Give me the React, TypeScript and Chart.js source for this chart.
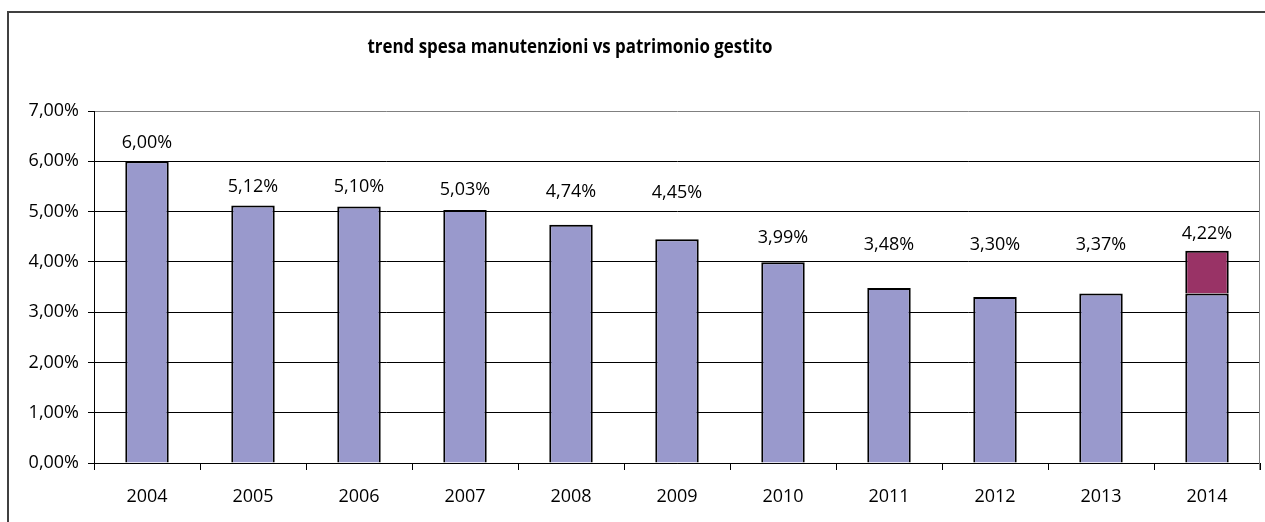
import React, { useEffect, useRef } from "react";
import { Chart, registerables } from "chart.js";

Chart.register(...registerables);

const years = ["2004", "2005", "2006", "2007", "2008", "2009", "2010", "2011", "2012", "2013", "2014"];
const baseValues = [6.0, 5.12, 5.1, 5.03, 4.74, 4.45, 3.99, 3.48, 3.3, 3.37, 3.37];
const extraValues = [0, 0, 0, 0, 0, 0, 0, 0, 0, 0, 0.85];
const totalValues = [6.0, 5.12, 5.1, 5.03, 4.74, 4.45, 3.99, 3.48, 3.3, 3.37, 4.22];
const labelLevels = [6.36, 5.5, 5.5, 5.44, 5.4, 5.37, 4.48, 4.34, 4.34, 4.34, 4.56];
const yTicks = [0, 1, 2, 3, 4, 5, 6, 7];
const titleText = "trend spesa manutenzioni vs patrimonio gestito";

const FONT = "'Open Sans', sans-serif";
const fmt = (v: number) => v.toFixed(2).replace(".", ",") + "%";

export default function App() {
  const ref = useRef<HTMLCanvasElement | null>(null);

  useEffect(() => {
    if (!ref.current) return;

    const decor = {
      id: "decor",
      beforeDraw(chart: any) {
        const ctx = chart.ctx;
        ctx.save();
        ctx.fillStyle = "#ffffff";
        ctx.fillRect(0, 0, chart.width, chart.height);
        ctx.strokeStyle = "#404040";
        ctx.lineWidth = 2;
        ctx.beginPath();
        ctx.moveTo(8, chart.height + 5);
        ctx.lineTo(8, 12);
        ctx.lineTo(chart.width + 5, 12);
        ctx.stroke();
        ctx.restore();
      },
      afterDraw(chart: any) {
        const ctx = chart.ctx;
        const area = chart.chartArea;
        ctx.save();
        // plot area right border
        ctx.strokeStyle = "#808080";
        ctx.lineWidth = 1;
        ctx.beginPath();
        ctx.moveTo(Math.round(area.right) - 0.5, area.top);
        ctx.lineTo(Math.round(area.right) - 0.5, area.bottom + 7);
        ctx.stroke();
        // title
        ctx.fillStyle = "#000";
        ctx.font = "bold 19px " + FONT;
        ctx.textAlign = "center";
        ctx.textBaseline = "middle";
        ctx.fillText(titleText, 570, 48, 405);
        // data labels
        const x = chart.scales.x;
        const y = chart.scales.y;
        ctx.font = "18px " + FONT;
        totalValues.forEach((v, i) => {
          ctx.fillText(fmt(v), x.getPixelForValue(i), y.getPixelForValue(labelLevels[i]));
        });
        ctx.restore();
      },
    };

    const chart = new Chart(ref.current, {
      type: "bar",
      data: {
        labels: years,
        datasets: [
          {
            data: baseValues,
            backgroundColor: "#9999CC",
            borderColor: "#000000",
            borderWidth: 2,
            barPercentage: 0.41,
            categoryPercentage: 1,
          },
          {
            data: extraValues,
            backgroundColor: "#993366",
            borderColor: "#000000",
            borderWidth: 2,
            barPercentage: 0.41,
            categoryPercentage: 1,
          },
        ],
      },
      options: {
        responsive: false,
        animation: false,
        devicePixelRatio: 1,
        layout: { padding: { left: 0, top: 111, right: 5, bottom: 0 } },
        plugins: {
          legend: { display: false },
          title: { display: false },
          tooltip: { enabled: false },
        },
        scales: {
          x: {
            stacked: true,
            offset: true,
            grid: {
              offset: true,
              drawOnChartArea: false,
              drawTicks: true,
              tickLength: 7,
              tickColor: "#000",
            },
            border: { color: "#000", width: 1 },
            ticks: { color: "#000", font: { family: FONT, size: 18 }, padding: 16 },
            afterFit: (s: any) => {
              s.height = 59;
            },
          },
          y: {
            stacked: true,
            min: 0,
            max: 7,
            afterBuildTicks: (s: any) => {
              s.ticks = yTicks.map((v) => ({ value: v }));
            },
            grid: {
              color: (c: any) => (c.tick && c.tick.value === 7 ? "#808080" : "#000"),
              tickColor: "#000",
              tickLength: 6,
              lineWidth: 1,
            },
            border: { color: "#000", width: 1 },
            ticks: {
              color: "#000",
              font: { family: FONT, size: 18 },
              padding: 9,
              callback: (v: any) => fmt(Number(v)),
            },
            afterFit: (s: any) => {
              s.width = 94;
            },
          },
        },
      },
      plugins: [decor],
    });

    return () => chart.destroy();
  }, []);

  return (
    <div style={{ position: "fixed", left: 0, top: 0, width: 1265, height: 522 }}>
      <canvas ref={ref} width={1265} height={522} style={{ width: 1265, height: 522, display: "block" }} />
    </div>
  );
}
